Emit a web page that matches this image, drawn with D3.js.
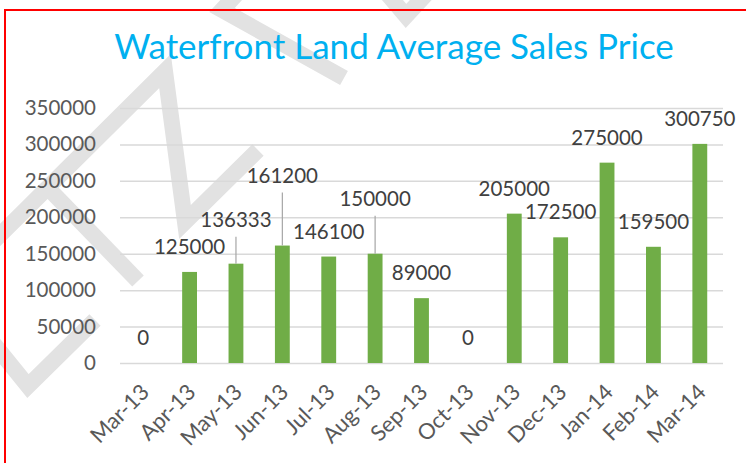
<!DOCTYPE html>
<html>
<head>
<meta charset="utf-8">
<script src="https://cdn.jsdelivr.net/npm/d3@7"></script>
<style>
  html, body { margin: 0; padding: 0; background: #fff; }
  svg { display: block; font-family: Lato, "Open Sans", sans-serif; }
</style>
</head>
<body>
<script>
var months = ["Mar-13", "Apr-13", "May-13", "Jun-13", "Jul-13", "Aug-13", "Sep-13",
  "Oct-13", "Nov-13", "Dec-13", "Jan-14", "Feb-14", "Mar-14"];
var prices = [0, 125000, 136333, 161200, 146100, 150000, 89000,
  0, 205000, 172500, 275000, 159500, 300750];
var yTicks = [0, 50000, 100000, 150000, 200000, 250000, 300000, 350000];
var title = "Waterfront Land Average Sales Price";

// labels that were dragged up in the original, with a leader line (px)
var labelLift = { "May-13": 19, "Jun-13": 45, "Aug-13": 30 };

var W = 746, H = 463;
var svg = d3.select('body').append('svg')
  .attr('width', W)
  .attr('height', H);

// faint watermark strokes behind the chart
var marks = [
  [[-6, 241], [165, 71], [185, 222], [258, 150]],
  [[48, 188], [138, 281]],
  [[-6, 344], [28, 386], [95, 320]],
  [[244, -14], [222, 10], [344, 78]],
  [[384, -10], [406, 16], [430, -10]]
];
svg.append('g').selectAll('path')
  .data(marks)
  .enter()
  .append('path')
  .attr('d', d3.line())
  .attr('fill', 'none')
  .attr('stroke', '#e2e2e2')
  .attr('stroke-width', 16)
  .attr('stroke-linejoin', 'miter')
  .attr('stroke-linecap', 'butt');

svg.append('rect')
  .attr('x', 5)
  .attr('y', 10)
  .attr('width', 800)
  .attr('height', 500)
  .attr('fill', 'none')
  .attr('stroke', '#ff0000')
  .attr('stroke-width', 2);

svg.append('text')
  .attr('x', 394)
  .attr('y', 59)
  .attr('text-anchor', 'middle')
  .attr('fill', '#00b0f0')
  .attr('font-size', 35)
  .text(title);

var x = d3.scaleBand()
  .domain(months)
  .range([120, 723])
  .paddingInner(0.68)
  .paddingOuter(0.34);

var y = d3.scaleLinear()
  .domain([0, 350000])
  .range([363, 108]);

// gridlines + y labels
var yAxis = d3.axisLeft(y)
  .tickValues(yTicks)
  .tickSize(-(723 - 120))
  .tickPadding(24)
  .tickFormat(d3.format('d'));

var gy = svg.append('g')
  .attr('transform', 'translate(120,0)')
  .call(yAxis);
gy.select('.domain').remove();
gy.selectAll('.tick line')
  .attr('stroke', '#d9d9d9')
  .attr('stroke-width', 1.5);
gy.selectAll('.tick text')
  .attr('fill', '#595959')
  .attr('font-size', 20.5)
  .attr('font-family', 'Lato, "Open Sans", sans-serif');

// x labels
var xAxis = d3.axisBottom(x).tickSize(0).tickPadding(0);
var gx = svg.append('g')
  .attr('transform', 'translate(0,363)')
  .call(xAxis);
gx.select('.domain').remove();
gx.selectAll('.tick text')
  .attr('fill', '#595959')
  .attr('font-size', 22)
  .attr('font-family', 'Lato, "Open Sans", sans-serif')
  .attr('text-anchor', 'end')
  .attr('dy', '0.35em')
  .attr('transform', 'translate(2,25) rotate(-45)');

// bars
svg.append('g').selectAll('rect')
  .data(prices)
  .enter()
  .append('rect')
  .attr('x', function (d, i) { return x(months[i]); })
  .attr('y', function (d) { return y(d); })
  .attr('width', x.bandwidth())
  .attr('height', function (d) { return y(0) - y(d); })
  .attr('fill', '#70ad47');

// leader lines
svg.append('g').selectAll('line')
  .data(months.filter(function (m) { return labelLift[m]; }))
  .enter()
  .append('line')
  .attr('x1', function (m) { return x(m) + x.bandwidth() / 2; })
  .attr('x2', function (m) { return x(m) + x.bandwidth() / 2; })
  .attr('y1', function (m) { return y(prices[months.indexOf(m)]) - 25 - labelLift[m] + 17; })
  .attr('y2', function (m) { return y(prices[months.indexOf(m)]); })
  .attr('stroke', '#a6a6a6')
  .attr('stroke-width', 1.2);

// data labels
svg.append('g').selectAll('text')
  .data(prices)
  .enter()
  .append('text')
  .attr('x', function (d, i) { return x(months[i]) + x.bandwidth() / 2; })
  .attr('y', function (d, i) { return y(d) - 25 - (labelLift[months[i]] || 0); })
  .attr('dy', '0.35em')
  .attr('text-anchor', 'middle')
  .attr('fill', '#404040')
  .attr('font-size', 20.5)
  .text(function (d) { return d; });
</script>
</body>
</html>
